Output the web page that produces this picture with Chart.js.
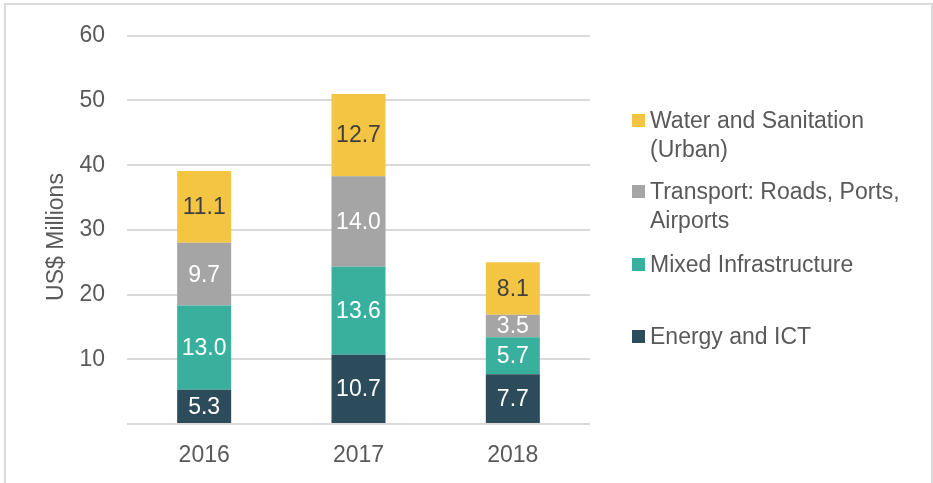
<!DOCTYPE html>
<html>
<head>
<meta charset="utf-8">
<script src="https://cdn.jsdelivr.net/npm/chart.js@4.4.1/dist/chart.umd.min.js"></script>
<style>
  html, body { margin: 0; padding: 0; background: #fff; }
  #wrap { position: relative; width: 933px; height: 483px; overflow: hidden; }
  #c { position: absolute; left: 0; top: 0; }
  #frame { position: absolute; left: 4px; top: 3px; width: 929px; height: 520px;
           border: 2px solid #d9d9d9; box-sizing: border-box; pointer-events: none; }
  .leg { position: absolute; left: 632px; font-family: "Liberation Sans", Arial, sans-serif;
         font-size: 23px; color: #595959; line-height: 29px; }
  .sw { position: absolute; left: 0; width: 13px; height: 13px; top: 8px; }
  .lt { position: absolute; left: 18px; top: 0; white-space: nowrap; }
  #ytitle { position: absolute; left: 55px; top: 237px; transform: translate(-50%, -50%) rotate(-90deg);
            font-family: "Liberation Sans", Arial, sans-serif; font-size: 23px; color: #595959;
            white-space: nowrap; line-height: 1; }
</style>
</head>
<body>
<div id="wrap">
  <canvas id="c" width="933" height="483"></canvas>
  <div id="frame"></div>
  <div id="ytitle"></div>
</div>
<script>
// ---- data ----
const categories = ['2016', '2017', '2018'];
const energyICT = [5.3, 10.7, 7.7];
const mixedInfrastructure = [13.0, 13.6, 5.7];
const transport = [9.7, 14.0, 3.5];
const waterSanitation = [11.1, 12.7, 8.1];
const yTickValues = [0, 10, 20, 30, 40, 50, 60];
const seriesNames = [
  ['Energy and ICT'],
  ['Mixed Infrastructure'],
  ['Transport: Roads, Ports,', 'Airports'],
  ['Water and Sanitation', '(Urban)']
];
const axisTitle = 'US$ Millions';

// ---- styles ----
const FONT = '"Liberation Sans", Arial, sans-serif';
const TEXT = '#595959';
const colors = ['#2c4c5c', '#39b09e', '#a5a5a5', '#f4c542'];
const labelColors = ['#ffffff', '#ffffff', '#ffffff', '#3f3f3f'];
const seriesValues = [energyICT, mixedInfrastructure, transport, waterSanitation];

const datasets = seriesValues.map((vals, i) => ({
  label: seriesNames[i].join(' '),
  data: vals,
  backgroundColor: colors[i],
  borderWidth: 0,
  categoryPercentage: 1,
  barPercentage: 0.35,
  labelColor: labelColors[i]
}));

const valueLabels = {
  id: 'valueLabels',
  afterDatasetsDraw(chart) {
    const ctx = chart.ctx;
    chart.data.datasets.forEach((ds, i) => {
      const meta = chart.getDatasetMeta(i);
      meta.data.forEach((bar, j) => {
        const v = ds.data[j];
        ctx.save();
        ctx.font = '23px ' + FONT;
        ctx.fillStyle = ds.labelColor;
        ctx.textAlign = 'center';
        ctx.textBaseline = 'middle';
        ctx.fillText(v.toFixed(1), bar.x, (bar.y + bar.base) / 2 + 1);
        ctx.restore();
      });
    });
  }
};

new Chart(document.getElementById('c'), {
  type: 'bar',
  data: { labels: categories, datasets },
  plugins: [valueLabels],
  options: {
    responsive: false,
    animation: false,
    layout: { padding: { left: 0, right: 343, top: 31, bottom: 0 } },
    plugins: { legend: { display: false }, tooltip: { enabled: false } },
    scales: {
      x: {
        stacked: true,
        grid: { display: false },
        border: { display: false },
        ticks: { color: TEXT, font: { family: FONT, size: 23 }, padding: 10 },
        afterFit(s) { s.height = 59; }
      },
      y: {
        stacked: true,
        min: yTickValues[0],
        max: yTickValues[yTickValues.length - 1],
        afterBuildTicks(s) { s.ticks = yTickValues.map(v => ({ value: v })); },
        ticks: {
          color: TEXT, font: { family: FONT, size: 23 }, padding: 22,
          callback: v => (v === 0 ? '' : String(v))
        },
        grid: { color: '#d9d9d9', lineWidth: 2, drawTicks: false },
        border: { display: false },
        title: { display: false },
        afterFit(s) { s.width = 127; }
      }
    }
  }
});

document.getElementById('ytitle').textContent = axisTitle;

// ---- HTML legend (top-to-bottom: reverse of stacking) ----
const legendTops = [322, 250, 177, 106]; // layout per series
const wrap = document.getElementById('wrap');
seriesNames.forEach((lines, i) => {
  const item = document.createElement('div');
  item.className = 'leg';
  item.style.top = legendTops[i] + 'px';
  const sw = document.createElement('div');
  sw.className = 'sw';
  sw.style.background = colors[i];
  const lt = document.createElement('div');
  lt.className = 'lt';
  lt.innerHTML = lines.map(l => l.replace(/&/g, '&amp;')).join('<br>');
  item.appendChild(sw);
  item.appendChild(lt);
  wrap.appendChild(item);
});
</script>
</body>
</html>
